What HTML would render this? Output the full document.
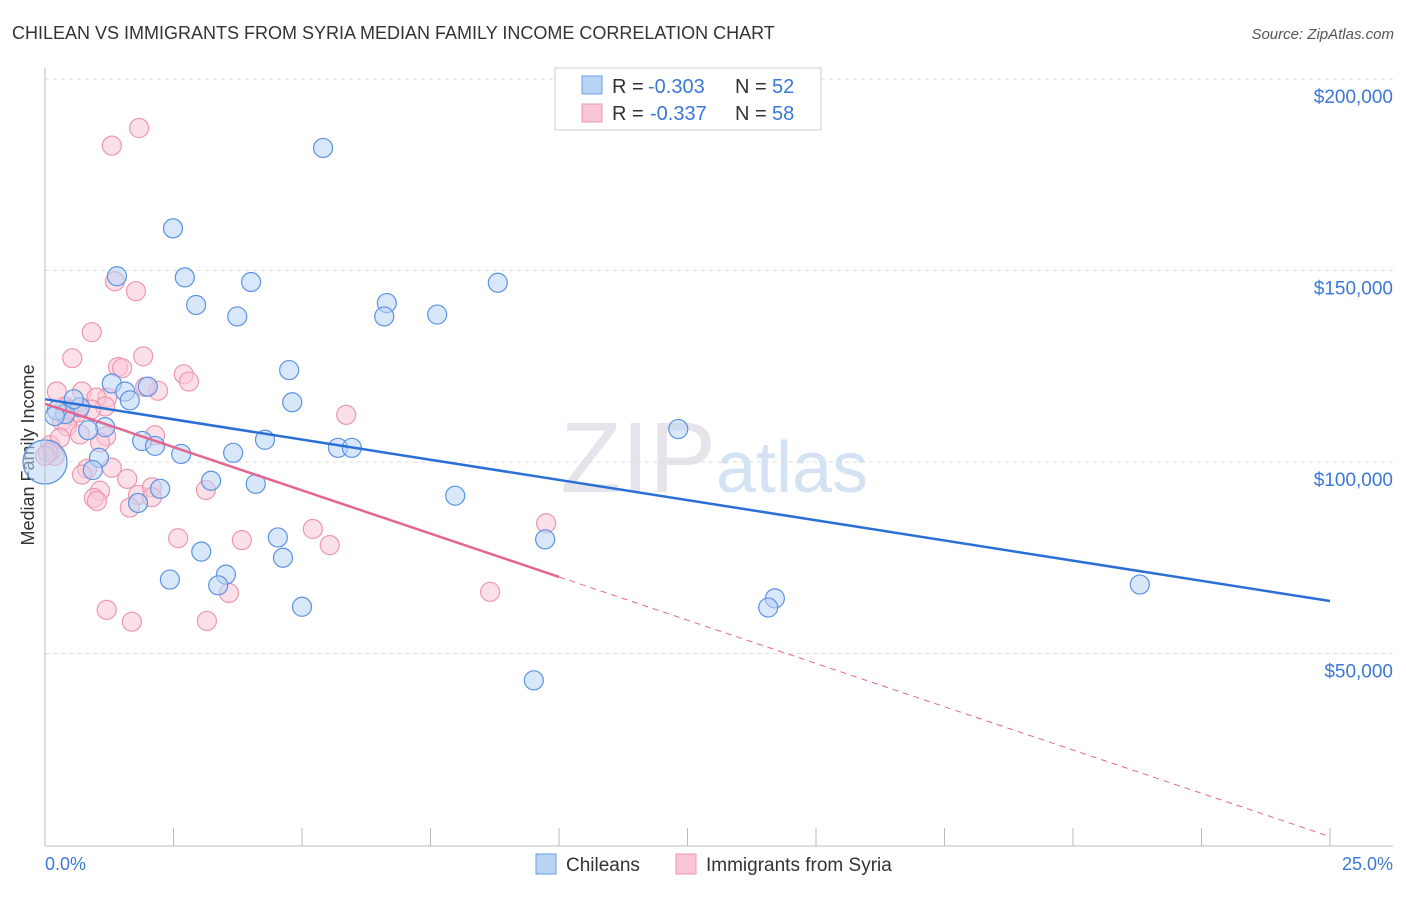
<!DOCTYPE html>
<html><head><meta charset="utf-8"><style>
body{margin:0;background:#fff;font-family:"Liberation Sans",sans-serif}
svg text{font-family:"Liberation Sans",sans-serif}
</style></head><body>
<svg id="c" width="1406" height="892">
<text x="12" y="39" font-size="18" fill="#333">CHILEAN VS IMMIGRANTS FROM SYRIA MEDIAN FAMILY INCOME CORRELATION CHART</text>
<text x="1394" y="39" font-size="15" fill="#555" font-style="italic" text-anchor="end">Source: ZipAtlas.com</text>
<text x="34" y="455" font-size="18" fill="#333" transform="rotate(-90 34 455)" text-anchor="middle">Median Family Income</text>
<text x="716" y="492" font-size="100" fill="#e4e4ea" text-anchor="end" font-family="Liberation Serif">ZIP</text>
<text x="716" y="492" font-size="72" fill="#d4e3f4">atlas</text>
<g id="grid"></g><g id="pts"></g><g id="lines"></g>
<line x1="45" y1="68" x2="45" y2="846" stroke="#bbb"/>
<line x1="45" y1="846" x2="1393" y2="846" stroke="#bbb"/>
<text x="45" y="870" font-size="18" fill="#3a78d8">0.0%</text>
<text x="1393" y="870" font-size="18" fill="#3a78d8" text-anchor="end">25.0%</text>
<g>
<rect x="555" y="68" width="266" height="62" fill="#fff" stroke="#ccc"/>
<rect x="582" y="76" width="20" height="18" fill="#b9d3f5" stroke="#6a9ee6"/>
<rect x="582" y="104" width="20" height="18" fill="#f9c6d6" stroke="#ee97b3"/>
<text x="612" y="93" font-size="20" fill="#333">R =</text>
<text x="648" y="93" font-size="20" fill="#3a78d8">-0.303</text>
<text x="735" y="93" font-size="20" fill="#333">N =</text>
<text x="772" y="93" font-size="20" fill="#3a78d8">52</text>
<text x="612" y="120" font-size="20" fill="#333">R =</text>
<text x="650" y="120" font-size="20" fill="#3a78d8">-0.337</text>
<text x="735" y="120" font-size="20" fill="#333">N =</text>
<text x="772" y="120" font-size="20" fill="#3a78d8">58</text>
</g>
<g>
<rect x="536" y="854" width="20" height="20" fill="#b9d3f5" stroke="#6a9ee6"/>
<text x="566" y="871" font-size="19" fill="#333">Chileans</text>
<rect x="676" y="854" width="20" height="20" fill="#f9c6d6" stroke="#ee97b3"/>
<text x="706" y="871" font-size="19" fill="#333">Immigrants from Syria</text>
</g>
</svg>
<script>
const yTicks=[50000,100000,150000,200000];
const yTickLabels=["$50,000","$100,000","$150,000","$200,000"];
const xTicks=[0,2.5,5,7.5,10,12.5,15,17.5,20,22.5,25];
const blueX=[5.41,2.49,1.4,2.72,4.01,8.81,2.94,6.65,3.74,6.6,7.63,4.75,1.3,2.0,1.56,1.65,4.81,0.68,0.39,0.23,0.56,1.17,0.84,12.32,1.89,2.14,4.28,5.7,5.97,2.65,3.66,1.05,0.93,3.23,4.1,2.24,1.81,7.98,0.0,9.73,4.53,3.04,2.43,3.52,3.37,4.63,5.0,21.3,14.2,14.07,9.51,0.19];
const blueY=[182000,161000,148500,148200,147000,146800,141000,141500,138000,138000,138500,124000,120500,119700,118400,116100,115600,114300,112500,113500,116400,109100,108300,108600,105500,104200,105800,103700,103700,102100,102400,101100,97900,95100,94300,93000,89300,91200,100000,79800,80300,76600,69300,70600,67800,75000,62200,68000,64400,62000,43000,112000];
const pinkX=[1.83,1.3,1.36,1.77,0.91,0.53,1.91,1.42,1.5,2.7,2.8,0.23,0.72,1.21,2.2,1.95,1.0,5.86,0.39,0.51,0.33,1.17,0.9,0.43,0.68,1.19,2.14,1.07,0.1,0.14,0.19,0.06,0.82,0.72,1.3,1.6,1.07,0.95,1.01,1.81,2.08,1.65,3.13,5.21,5.54,2.59,3.83,9.75,3.58,8.66,1.2,1.69,3.15,2.08,0.64,0.45,0.0,0.29];
const pinkY=[187200,182600,147200,144600,133900,127100,127600,124800,124500,122900,121000,118400,118400,116800,118600,119600,116800,112300,114500,112100,110600,114500,113700,109300,107200,106700,107000,105100,104400,103100,101600,102400,98200,96700,98500,95600,92500,90600,89800,91400,93400,88100,92700,82500,78300,80100,79600,84000,65800,66100,61400,58300,58500,90800,112900,113700,101600,106300];
const blueTrend=[116400,63700];   // value at x=0 and x=25
const pinkTrend=[115200,2200];    // value at x=0 and x=25
const pinkSolidEnd=10;
const ns="http://www.w3.org/2000/svg";
const X0=45,X1=1330,YB=845,PX=383/100000;
const xs=v=>X0+v/25*(X1-X0), ys=v=>YB-v*PX;
const grid=document.getElementById('grid'),pts=document.getElementById('pts'),lines=document.getElementById('lines');
function mk(t,a,p){const e=document.createElementNS(ns,t);for(const k in a)e.setAttribute(k,a[k]);p.appendChild(e);return e;}
yTicks.forEach((v,i)=>{
 const l=mk('line',{x1:X0,x2:1393,y1:ys(v),y2:ys(v),stroke:'#ddd','stroke-dasharray':'4,4'},grid);
 
 
 const t=mk('text',{x:1393,y:ys(v)+24,'font-size':19,fill:'#3a78d8','text-anchor':'end'},grid);
 t.textContent=yTickLabels[i];
 
 
});
xTicks.forEach(v=>{
 const l=mk('line',{x1:xs(v),x2:xs(v),y1:828,y2:846,stroke:'#bbb'},grid);
 
 
});
function dots(xa,ya,fill,stroke,name){
 xa.forEach((x,i)=>{
  const big=(name==='chilean-point'&&x===0);
  const c=mk('circle',{cx:xs(x),cy:ys(ya[i]),r:big?22:9.5,fill:fill,'fill-opacity':0.55,stroke:stroke,'stroke-width':1.2},pts);
  
  
 });
}
dots(pinkX,pinkY,'#f9c6d6','#ee97b3','syria-point');
dots(blueX,blueY,'#b9d3f5','#5b93e0','chilean-point');
const tv=(t,x)=>t[0]+(t[1]-t[0])*x/25;
let l=mk('line',{x1:xs(0),y1:ys(tv(blueTrend,0)),x2:xs(25),y2:ys(tv(blueTrend,25)),stroke:'#2a6fd6','stroke-width':2.5},lines);


l=mk('line',{x1:xs(0),y1:ys(tv(pinkTrend,0)),x2:xs(pinkSolidEnd),y2:ys(tv(pinkTrend,pinkSolidEnd)),stroke:'#e3668f','stroke-width':2.5},lines);


l=mk('line',{x1:xs(pinkSolidEnd),y1:ys(tv(pinkTrend,pinkSolidEnd)),x2:xs(25),y2:ys(tv(pinkTrend,25)),stroke:'#e3668f','stroke-width':1,'stroke-dasharray':'6,5'},lines);


</script>
</body></html>
